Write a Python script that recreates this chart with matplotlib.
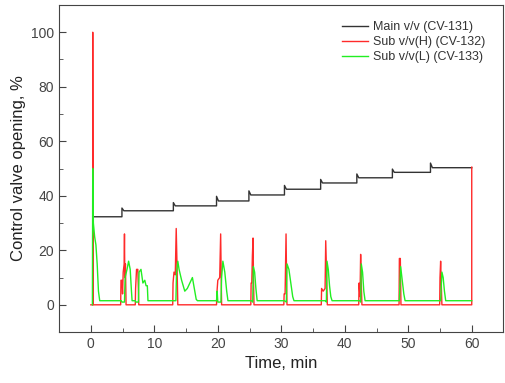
import numpy as np
import matplotlib.pyplot as plt

plt.rcParams['font.family'] = ['Liberation Sans', 'DejaVu Sans']

# main valve (CV-131): step changes with a small overshoot at each step
main_t = [0.4, 4.9, 4.9, 5.2, 13.0, 13.0, 13.3, 19.8, 19.8, 20.1, 24.9, 24.9, 25.2,
          30.5, 30.5, 30.8, 36.2, 36.2, 36.5, 41.9, 41.9, 42.2, 47.5, 47.5, 47.8,
          53.5, 53.5, 53.8, 60.0]
main_v = [32.3, 32.3, 35.5, 34.5, 34.5, 37.5, 36.3, 36.3, 39.8, 38.1, 38.1, 41.8, 40.3,
          40.3, 43.8, 42.4, 42.4, 46.0, 44.7, 44.7, 48.0, 46.6, 46.6, 49.8, 48.6,
          48.6, 52.0, 50.3, 50.3]

# sub valve H (CV-132)
subh_t = [0.0, 0.3, 0.3, 0.35, 4.7, 4.75, 4.9, 5.0, 5.1, 5.25, 5.3, 5.35, 5.45, 5.55,
          7.0, 7.05, 7.2, 7.4, 7.5, 7.55,
          12.9, 12.95, 13.1, 13.3, 13.45, 13.6, 13.7,
          19.8, 19.85, 20.0, 20.3, 20.45, 20.55, 20.6,
          25.2, 25.25, 25.35, 25.45, 25.55, 25.62, 25.7,
          30.4, 30.45, 30.6, 30.75, 30.85, 30.9,
          36.3, 36.35, 36.6, 36.9, 37.0, 37.15, 37.25,
          42.2, 42.25, 42.4, 42.5, 42.6, 42.7,
          48.55, 48.6, 48.75, 48.85,
          54.95, 55.0, 55.1, 55.2, 55.3,
          60.0, 60.0]
subh_v = [0, 0, 100, 0, 0, 9, 9, 4, 12, 15, 26, 10, 15, 0,
          0, 6, 13, 13, 5, 0,
          0, 8, 12, 11, 28, 12, 0,
          0, 4, 9, 10, 26, 8, 0,
          0, 8, 8, 18, 24.5, 10, 0,
          0, 4, 4, 26, 6, 0,
          0, 6, 5, 6, 23.5, 10, 0,
          0, 8, 3, 18.5, 8, 0,
          0, 17, 17, 0,
          0, 10, 16, 8, 0,
          0, 50.5]

# sub valve L (CV-133)
subl_t = [0.25, 0.3, 0.4, 0.6, 0.8, 1.0, 1.2, 1.4,
          4.8, 4.9, 5.3, 5.4, 5.7, 5.95, 6.2, 6.4, 6.5,
          7.0, 7.1, 7.5, 7.6, 7.9, 8.2, 8.5, 8.7, 8.9, 9.0,
          13.0, 13.4, 13.5, 13.7, 13.9, 14.3, 14.8, 15.2, 15.6, 16.0, 16.3, 16.6, 16.8,
          19.8, 19.9, 20.0, 20.5, 20.6, 20.8, 21.1, 21.4, 21.6,
          25.3, 25.5, 25.6, 25.8, 26.0, 26.2,
          30.5, 30.8, 30.9, 31.2, 31.5, 31.8, 32.0,
          37.0, 37.1, 37.2, 37.4, 37.6, 37.8, 38.0,
          42.4, 42.5, 42.6, 42.8, 43.0, 43.2,
          48.6, 48.8, 49.0, 49.3, 49.5,
          55.1, 55.3, 55.5, 55.7, 55.9,
          60.0]
subl_v = [0, 50, 30, 25, 22, 15, 5, 1.5,
          1.5, 1.0, 1.0, 10, 13, 16, 13, 5, 1.5,
          1.5, 1.0, 1.0, 12, 13, 8, 9, 7, 7, 1.5,
          1.5, 1.5, 12, 16, 13, 9, 5, 6, 8, 10, 6, 2, 1.5,
          1.5, 5, 1.0, 1.0, 10, 16, 12, 5, 1.5,
          1.5, 1.0, 14, 12, 6, 1.5,
          1.5, 1.0, 15, 13, 8, 3, 1.5,
          1.5, 1.0, 16, 13, 7, 3, 1.5,
          1.5, 1.0, 15, 12, 5, 1.5,
          1.5, 14, 10, 4, 1.5,
          1.5, 12, 10, 5, 1.5,
          1.5]

fig = plt.figure(figsize=(5.05, 3.83), dpi=100)
ax = fig.add_axes([0.117, 0.133, 0.88, 0.854])

ax.plot(main_t, main_v, color='#333333', lw=1.0, label='Main v/v (CV-131)')
ax.plot(subh_t, subh_v, color='#ff2a2a', lw=1.0, label='Sub v/v(H) (CV-132)')
ax.plot(subl_t, subl_v, color='#22ee22', lw=1.0, label='Sub v/v(L) (CV-133)')

ax.set_xlim(-5, 65)
ax.set_ylim(-10, 110)
ax.set_xticks(np.arange(0, 61, 10))
ax.set_yticks(np.arange(0, 101, 20))
ax.set_xticks(np.arange(5, 61, 10), minor=True)
ax.set_yticks(np.arange(10, 101, 20), minor=True)
ax.tick_params(which='both', direction='in', colors='#444444', labelsize=10,
               top=False, right=False)
ax.tick_params(which='major', length=5)
ax.tick_params(which='minor', length=3)
for s in ax.spines.values():
    s.set_color('#444444')

ax.set_xlabel('Time, min', fontsize=12, color='#222222')
ax.set_ylabel('Control valve opening, %', fontsize=12, color='#222222')

ax.legend(loc='upper right', frameon=False, fontsize=9, handlelength=2.1,
          handletextpad=0.4, labelspacing=0.25, bbox_to_anchor=(0.985, 0.985),
          labelcolor='#333333')

fig.savefig('out.png', dpi=100)
